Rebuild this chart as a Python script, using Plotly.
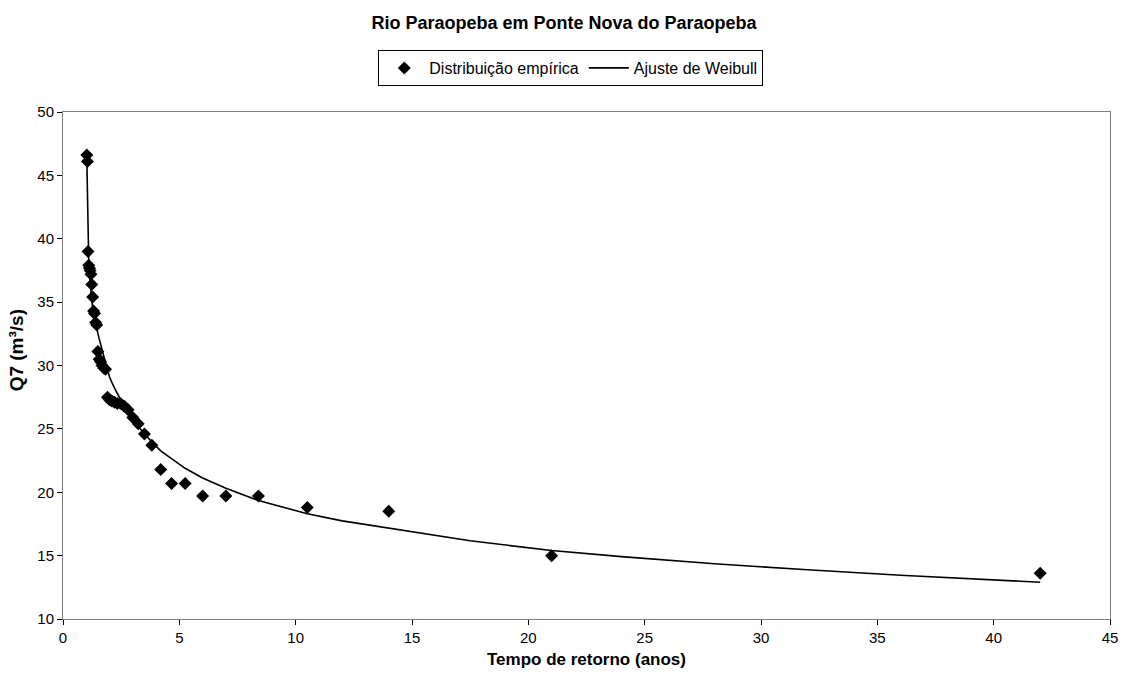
import plotly.graph_objects as go

# Empirical distribution: return period (years) and Q7 (m3/s)
t_emp = [42.0, 21.0, 14.0, 10.5, 8.4, 7.0, 6.0, 5.25, 4.667, 4.2, 3.818, 3.5, 3.231,
         3.0, 2.8, 2.625, 2.471, 2.333, 2.211, 2.1, 2.0, 1.909, 1.826, 1.75, 1.68,
         1.615, 1.556, 1.5, 1.448, 1.4, 1.355, 1.3125, 1.273, 1.235, 1.2, 1.167,
         1.135, 1.105, 1.077, 1.05, 1.024]
q_emp = [13.6, 15.0, 18.5, 18.8, 19.7, 19.7, 19.7, 20.7, 20.7, 21.8, 23.7, 24.6, 25.4,
         25.9, 26.5, 26.8, 27.0, 27.0, 27.1, 27.2, 27.3, 27.5, 29.7, 29.8, 30.0,
         30.3, 30.5, 31.1, 33.2, 33.4, 34.1, 34.3, 35.4, 36.4, 37.2, 37.5,
         37.7, 37.9, 39.0, 46.1, 46.6]

# Weibull fit curve
t_fit = [42.0, 39.0, 36.0, 32.0, 28.0, 24.0, 21.0, 17.5, 14.0, 12.0, 10.5, 8.4, 7.0,
         6.0, 5.25, 4.667, 4.2, 3.818, 3.5, 3.231, 3.0, 2.8, 2.625, 2.471, 2.333,
         2.211, 2.1, 2.0, 1.909, 1.826, 1.75, 1.68, 1.615, 1.556, 1.5, 1.448, 1.4,
         1.355, 1.3125, 1.273, 1.235, 1.2, 1.167, 1.135, 1.105, 1.077, 1.05, 1.024]
q_fit = [12.9, 13.17, 13.45, 13.88, 14.36, 14.92, 15.4, 16.17, 17.15, 17.74, 18.3, 19.35, 20.31,
         21.13, 21.89, 22.62, 23.27, 23.97, 24.6, 25.19, 25.73, 26.23, 26.78, 27.29, 27.78,
         28.24, 28.67, 29.09, 29.64, 30.18, 30.68, 31.17, 31.65, 32.1, 32.53, 32.95, 33.36,
         33.76, 34.15, 34.6, 35.2, 35.8, 36.4, 37.2, 38.4, 40.5, 43.2, 46.2]

x_ticks = [0, 5, 10, 15, 20, 25, 30, 35, 40, 45]
y_ticks = [10, 15, 20, 25, 30, 35, 40, 45, 50]

font_family = "Liberation Sans, Arial, sans-serif"

fig = go.Figure()
fig.add_trace(go.Scatter(
    x=t_emp, y=q_emp, mode="markers", name="Distribuição empírica",
    marker=dict(symbol="diamond", size=10, color="black", line=dict(width=0)),
))
fig.add_trace(go.Scatter(
    x=t_fit, y=q_fit, mode="lines", name="Ajuste de Weibull",
    line=dict(color="black", width=1.6),
))

fig.update_layout(
    width=1128, height=679,
    paper_bgcolor="white", plot_bgcolor="white",
    margin=dict(l=63, r=10, t=112, b=60),
    font=dict(family=font_family, size=15, color="black"),
    title=dict(text="<b>Rio Paraopeba em Ponte Nova do Paraopeba</b>",
               x=0.5, xanchor="center", y=1 - 23 / 679, yanchor="middle",
               font=dict(size=18, family=font_family, color="black")),
    showlegend=True,
    legend=dict(orientation="h", x=0.485, xanchor="center", y=1.0868, yanchor="middle",
                bordercolor="black", borderwidth=1, bgcolor="white",
                font=dict(size=16, family=font_family), itemwidth=40,
                tracegroupgap=0),
    xaxis=dict(
        range=[0, 45], tickvals=x_ticks, ticktext=[str(v) for v in x_ticks],
        showgrid=False, zeroline=False, showline=True, linecolor="#808080",
        linewidth=1, mirror=True, ticks="outside", ticklen=5, tickcolor="black",
        title=dict(text="<b>Tempo de retorno (anos)</b>", standoff=8,
                   font=dict(size=17, family=font_family)),
        tickfont=dict(size=15),
    ),
    yaxis=dict(
        range=[10, 50], tickvals=y_ticks, ticktext=[str(v) for v in y_ticks],
        showgrid=False, zeroline=False, showline=True, linecolor="#808080",
        linewidth=1, mirror=True, ticks="outside", ticklen=5, tickcolor="black",
        tickfont=dict(size=15),
    ),
    annotations=[dict(
        text="<b>Q7 (m³/s)</b>", textangle=-90, showarrow=False,
        xref="paper", yref="paper", x=(16 - 63) / 1055, y=(619 - 350) / 507,
        xanchor="center", yanchor="middle",
        font=dict(size=19, family=font_family, color="black"),
    )],
)

fig.write_html("out.html")
